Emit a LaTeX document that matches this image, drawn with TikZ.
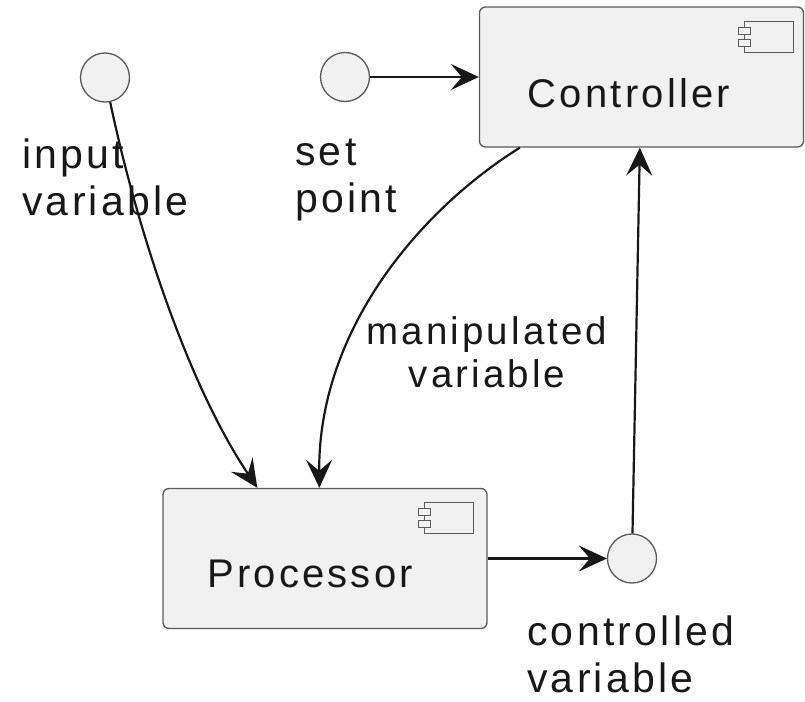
\documentclass[tikz,border=0pt]{standalone}
\usepackage{fontspec}
\setmainfont[LetterSpace=8]{Liberation Sans}
\usetikzlibrary{arrows.meta,calc}

\definecolor{boxfill}{HTML}{F1F1F1}
\definecolor{boxline}{HTML}{5A5A5A}
\definecolor{ink}{HTML}{181818}

\tikzset{
  compbox/.style={draw=boxline, fill=boxfill, line width=1.3pt, rounded corners=6pt,
    minimum width=324pt, minimum height=140pt, inner sep=0pt},
  iface/.style={circle, draw=boxline, fill=boxfill, line width=1.3pt,
    minimum size=49pt, inner sep=0pt},
  boxtext/.style={font=\fontsize{40}{46}\selectfont, text=ink, inner sep=0pt, anchor=base},
  itext/.style={font=\fontsize{41}{47}\selectfont, text=ink, inner sep=0pt, align=left},
  etext/.style={font=\fontsize{38.5}{43}\selectfont, text=ink, inner sep=0pt, align=center},
  arr/.style={draw=ink, line width=2.2pt,
    -{Stealth[length=28pt, width=26pt, inset=11pt]}},
  iconpart/.style={draw=boxline, fill=boxfill, line width=1.2pt}
}

\begin{document}
\begin{tikzpicture}[x=1pt, y=-1pt]
\useasboundingbox (0,0) rectangle (805,701);

% components
\node[compbox] (ctrl) at (641.5,77) {};
\node[compbox] (proc) at (325,558.5) {};
\node[boxtext] (ctrltxt) at (629,107) {Controller};
\node[boxtext] (proctxt) at (310,587) {Processor};

% component icons in the upper right corners
\foreach \b/\dx in {ctrl/-60, proc/-63} {
  \draw[iconpart] ($(\b.north east)+(\dx,15)$) rectangle ++(49,31);
  \draw[iconpart] ($(\b.north east)+(\dx-6,21)$) rectangle ++(12,7);
  \draw[iconpart] ($(\b.north east)+(\dx-6,33)$) rectangle ++(12,7);
}

% interfaces
\node[iface] (iv) at (105,77.5) {};
\node[iface] (sp) at (345,77) {};
\node[iface] (cv) at (632,558.5) {};

% interface labels
\node[itext, anchor=north west] (ivtxt) at (22,139) {input\\variable};
\node[itext, anchor=north west] (sptxt) at (295,139) {set\\point};
\node[itext, anchor=north west] (cvtxt) at (527,616) {controlled\\variable};

% connectors
\draw[arr] (sp) -- (ctrl);
\draw[arr] ($(ctrl.south west)+(41,0)$) .. controls (420,210) and (318,330) .. ($(proc.north west)+(157,0)$);
\node[etext] (mvlabel) at (487,352) {manipulated\\variable};
\draw[arr] (iv) .. controls (135,220) and (185,380) .. ($(proc.north west)+(95,0)$);
\draw[arr] (cv) -- ($(ctrl.south west)+(161,0)$);
\draw[arr] (proc.east) -- (cv);
\end{tikzpicture}
\end{document}
